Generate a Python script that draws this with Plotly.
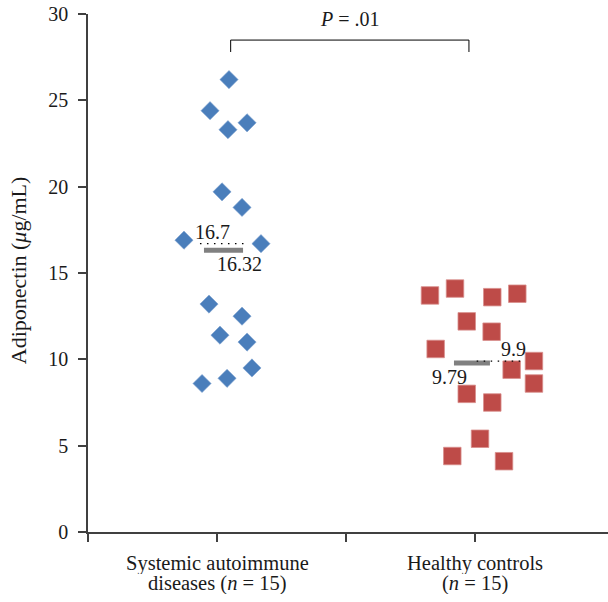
import plotly.graph_objects as go

# ---- data ----
category_lines = [["Systemic autoimmune", "diseases (<i>n</i> = 15)"],
                  ["Healthy controls", "(<i>n</i> = 15)"]]
category_pos = [1, 3]

sad_values = [26.2, 24.4, 23.3, 23.7, 19.7, 18.8, 16.9, 16.7, 13.2, 12.5, 11.4, 11.0, 9.5, 8.6, 8.9]
sad_jitter = [1.093, 0.946, 1.085, 1.233, 1.039, 1.194, 0.744, 1.341, 0.938, 1.194, 1.023, 1.233, 1.271, 0.884, 1.078]
hc_values = [13.7, 14.1, 13.6, 13.8, 12.2, 11.6, 10.6, 9.9, 9.4, 8.6, 8.0, 7.5, 5.4, 4.4, 4.1]
hc_jitter = [2.651, 2.845, 3.134, 3.328, 2.936, 3.129, 2.695, 3.457, 3.284, 3.457, 2.936, 3.134, 3.039, 2.824, 3.225]

sad_mean, sad_median = 16.32, 16.7
hc_mean, hc_median = 9.79, 9.9
p_text = "<i>P</i> = .01"

y_ticks = [0, 5, 10, 15, 20, 25, 30]

FONT = "Liberation Serif"
AX = "#404040"
TXT = "#1a1a1a"

fig = go.Figure()
fig.add_trace(go.Scatter(x=sad_jitter, y=sad_values, mode="markers",
                         marker=dict(symbol="diamond", size=14, color="#4A7EBB",
                                     line=dict(width=0.6, color="#7FA3D0")),
                         showlegend=False, hoverinfo="y"))
fig.add_trace(go.Scatter(x=hc_jitter, y=hc_values, mode="markers",
                         marker=dict(symbol="square", size=17.5, color="#BE4B48",
                                     line=dict(width=0.8, color="#D88E8C")),
                         showlegend=False, hoverinfo="y"))

# mean bars (grey) and median lines (dotted)
fig.add_trace(go.Scatter(x=[0.899, 1.202], y=[sad_mean, sad_mean], mode="lines",
                         line=dict(color="#808080", width=5), showlegend=False, hoverinfo="skip"))
fig.add_trace(go.Scatter(x=[2.837, 3.116], y=[hc_mean, hc_mean], mode="lines",
                         line=dict(color="#808080", width=5), showlegend=False, hoverinfo="skip"))
fig.add_trace(go.Scatter(x=[0.868, 1.240], y=[sad_median, sad_median], mode="lines",
                         line=dict(color="black", width=1.2, dash="1.5px,5.5px"),
                         showlegend=False, hoverinfo="skip"))
fig.add_trace(go.Scatter(x=[3.013, 3.372], y=[hc_median, hc_median], mode="lines",
                         line=dict(color="black", width=1.2, dash="1.5px,5.5px"),
                         showlegend=False, hoverinfo="skip"))

ann_font = dict(family=FONT, size=20, color=TXT)
fig.add_annotation(x=0.965, y=sad_median, text=f"{sad_median}", showarrow=False,
                   yanchor="bottom", yshift=-1, font=ann_font)
fig.add_annotation(x=1.178, y=sad_mean, text=f"{sad_mean}", showarrow=False,
                   yanchor="top", yshift=-1, font=ann_font)
fig.add_annotation(x=3.295, y=hc_median, text=f"{hc_median}", showarrow=False,
                   yanchor="bottom", yshift=-1, font=ann_font)
fig.add_annotation(x=2.80, y=hc_mean, text=f"{hc_mean}", showarrow=False,
                   yanchor="top", yshift=-1, font=ann_font)

# significance bracket
br_y, br_drop = 28.49, 27.8
br_x0, br_x1 = 1.106, 2.953
fig.add_shape(type="path",
              path=f"M {br_x0},{br_drop} L {br_x0},{br_y} L {br_x1},{br_y} L {br_x1},{br_drop}",
              line=dict(color="black", width=1))
fig.add_annotation(x=(br_x0 + br_x1) / 2, y=br_y, text=p_text, showarrow=False,
                   yanchor="bottom", yshift=8, font=dict(family=FONT, size=20, color=TXT))

# category labels (two tight lines each)
for pos, lines in zip(category_pos, category_lines):
    for i, line in enumerate(lines):
        fig.add_annotation(x=pos, xref="x", yref="paper", y=0, text=line, showarrow=False,
                           xanchor="center", yanchor="middle", yshift=-31 - 20.5 * i,
                           height=21, valign="middle", borderpad=0,
                           font=dict(family=FONT, size=20.5, color=TXT))

# y-axis title
fig.add_annotation(xref="paper", yref="paper", x=-0.132, y=0.506,
                   xanchor="center", yanchor="middle",
                   text="Adiponectin (<i>μ</i>g/mL)", textangle=-90, showarrow=False,
                   font=dict(family=FONT, size=22, color=TXT))

fig.update_layout(
    width=608, height=602,
    margin=dict(l=88, r=0, t=14, b=70, autoexpand=False),
    plot_bgcolor="white", paper_bgcolor="white",
    font=dict(family=FONT, size=20, color=TXT),
    xaxis=dict(range=[0, 4.031], tickvals=[0, 1, 2, 3], showticklabels=False,
               ticks="outside", ticklen=8, tickcolor=AX, tickwidth=1.5, automargin=False,
               showline=True, linecolor=AX, linewidth=1.5, showgrid=False, zeroline=False),
    yaxis=dict(range=[0, 30], tickvals=y_ticks, ticks="outside", ticklen=8,
               tickcolor=AX, tickwidth=1.5, showline=True, linecolor=AX, linewidth=1.5,
               showgrid=False, zeroline=False, ticklabelstandoff=6, automargin=False,
               ticklabeloverflow="allow",
               tickfont=dict(family=FONT, size=20, color=TXT)),
)

# remove the default 8px page margin so the 608x602 figure fills the window
fig.write_html("out.html", config={"displayModeBar": False},
               post_script="document.body.style.margin='0';document.body.style.overflow='hidden';")
